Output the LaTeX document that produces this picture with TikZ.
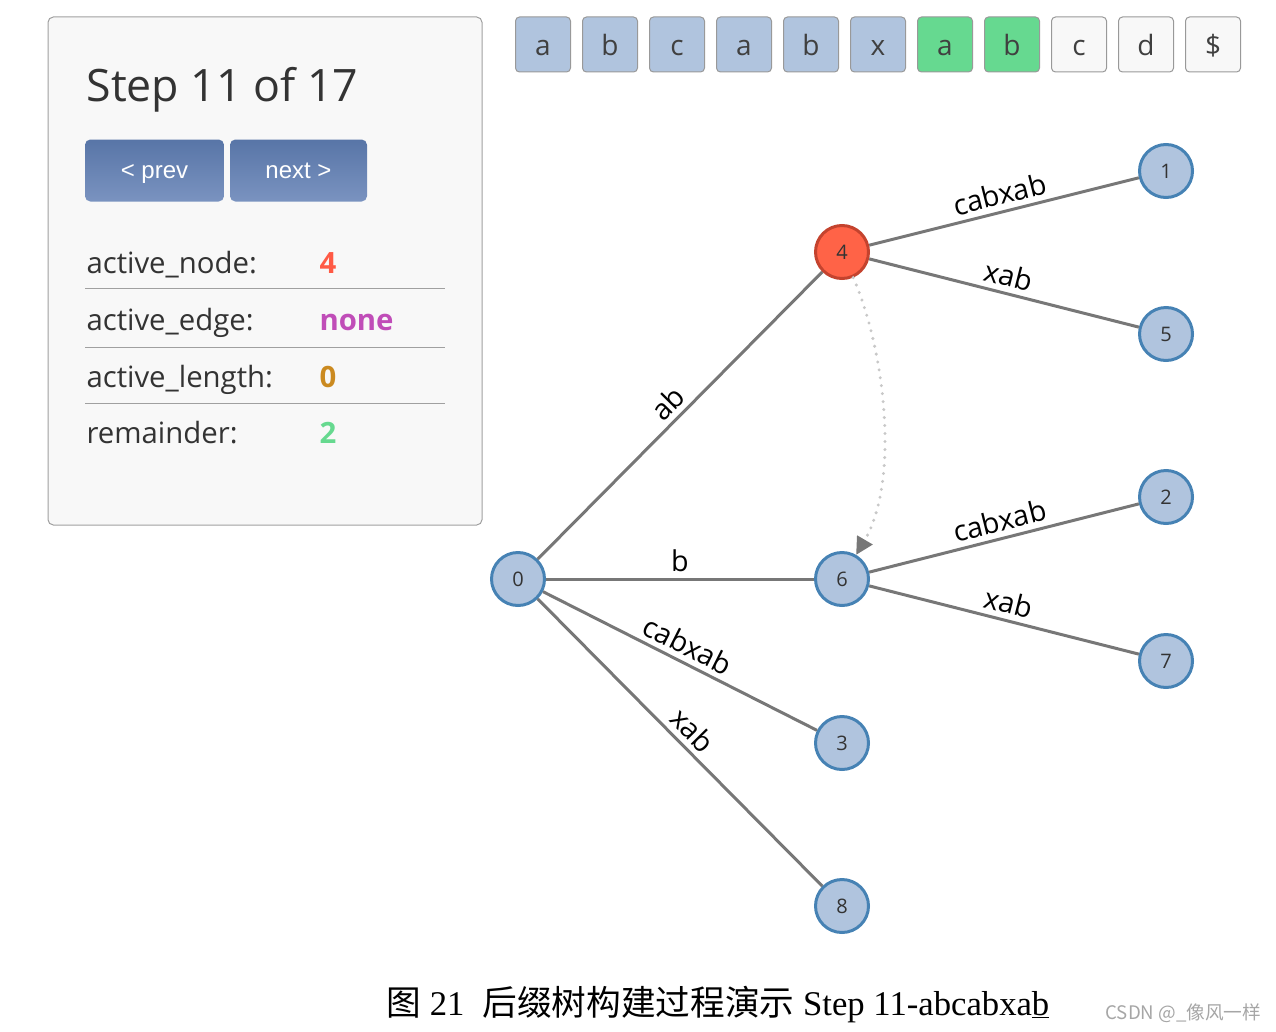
\documentclass[tikz,border=0pt]{standalone}
\usepackage{fontspec}
\setmainfont{Open Sans}
\newfontfamily\btnfont{Liberation Sans}
\newfontfamily\capfont{Liberation Serif}
\newfontfamily\cjk{Noto Sans CJK SC}
\usepackage{xcolor}
\usetikzlibrary{arrows.meta}
\tikzset{every picture/.style={line width=0.75pt}}

\definecolor{nodefill}{HTML}{B0C4DE}
\definecolor{nodeline}{HTML}{4682B4}
\definecolor{activefill}{HTML}{FF6347}
\definecolor{activeline}{HTML}{C4432E}
\definecolor{edgegray}{HTML}{777777}
\definecolor{linkgray}{HTML}{C8C8C8}
\definecolor{panelbg}{HTML}{F8F8F8}
\definecolor{panelline}{HTML}{A0A0A0}
\definecolor{btntop}{HTML}{5875A7}
\definecolor{btnbottom}{HTML}{7A93C0}
\definecolor{textgray}{HTML}{333333}
\definecolor{donefill}{HTML}{B0C4DE}
\definecolor{sufffill}{HTML}{66D990}
\definecolor{restfill}{HTML}{F8F8F8}
\definecolor{valred}{HTML}{FF5A45}
\definecolor{valpurple}{HTML}{C04DB8}
\definecolor{valgold}{HTML}{CB8A20}
\definecolor{valgreen}{HTML}{66D98F}

\begin{document}
\begin{tikzpicture}[x=0.75pt,y=0.75pt,yscale=-1,xscale=1,
  tnode/.style={circle, draw=nodeline, fill=nodefill, line width=2.25pt, minimum size=39.75pt, inner sep=0pt, text=textgray, font=\fontsize{15}{15}\selectfont},
  anode/.style={tnode, draw=activeline, fill=activefill},
  treeedge/.style={draw=edgegray, line width=2.25pt},
  elabel/.style={midway, above, rotate=#1, inner sep=4pt, font=\fontsize{21.5}{21.5}\selectfont},
  charbox/.style={draw=black!40, fill=#1, rounded corners=3pt, minimum width=41.25pt, minimum height=41.25pt, inner sep=0pt, text height=20pt, text depth=2.8pt, text=black!75, font=\fontsize{21}{21}\selectfont},
  btn/.style={rounded corners=4pt, top color=btntop, bottom color=btnbottom, minimum width=104.25pt, minimum height=46.5pt, inner sep=0pt, text height=12pt, text depth=0pt, text=white, font=\btnfont\fontsize{18}{18}\selectfont},
  rowlabel/.style={anchor=base west, inner sep=0pt, text=textgray, font=\fontsize{22}{22}\selectfont},
  rowvalue/.style={anchor=base west, inner sep=0pt, font=\bfseries\fontsize{22}{22}\selectfont},
]
\useasboundingbox (0,0) rectangle (1276,1031);

%Shape: Rectangle (panel)
\draw [draw=panelline, fill=panelbg, rounded corners=4pt] (48,17) rectangle (482,525);

% Text Node
\node [anchor=base west, inner sep=0pt, text=textgray, font=\fontsize{33.5}{33.5}\selectfont] (title) at (86,101) {Step 11 of 17};
% Buttons
\node [btn] (prev) at (154.5,170.5) {< prev};
\node [btn, minimum width=102.75pt] (next) at (298.5,170.5) {next >};

% Rows
\foreach \lab/\val/\col/\y [count=\i] in {active\_node:/4/valred/273, active\_edge:/none/valpurple/330, active\_length:/0/valgold/387, remainder:/2/valgreen/443}
{
  \node [rowlabel] (lab\i) at (86,\y) {\lab};
  \node [rowvalue, text=\col] (val\i) at (319,\y) {\val};
}
%Straight Lines
\foreach \y in {288,347,403}
  \draw [draw=panelline] (85,\y) -- (445,\y);

% Character boxes
\foreach \ch/\col [count=\i from 0] in {a/donefill, b/donefill, c/donefill, a/donefill, b/donefill, x/donefill, a/sufffill, b/sufffill, c/restfill, d/restfill, \$/restfill}
  \node [charbox=\col] (c\i) at ({543+67*\i},44.5) {\ch};

%Shape: Circle
\node [tnode] (n0) at (518,579) {0};
\node [anode] (n4) at (842,252) {4};
\node [tnode] (n6) at (842,579) {6};
\node [tnode] (n3) at (842,743) {3};
\node [tnode] (n8) at (842,906) {8};
\node [tnode] (n1) at (1166,171) {1};
\node [tnode] (n5) at (1166,334) {5};
\node [tnode] (n2) at (1166,497) {2};
\node [tnode] (n7) at (1166,661) {7};

%Straight Lines
\draw [treeedge] (n0) -- (n4) node [elabel=45.3] {ab};
\draw [treeedge] (n0) -- (n6) node [elabel=0] {b};
\draw [treeedge] (n0) -- (n3) node [elabel=-26.8] {cabxab};
\draw [treeedge] (n0) -- (n8) node [elabel=-45.3] {xab};
\draw [treeedge] (n4) -- (n1) node [elabel=14] {cabxab};
\draw [treeedge] (n4) -- (n5) node [elabel=-14.2] {xab};
\draw [treeedge] (n6) -- (n2) node [elabel=14] {cabxab};
\draw [treeedge] (n6) -- (n7) node [elabel=-14.2] {xab};

%Curve Lines (suffix link)
\draw [draw=linkgray, line width=2.5pt, line cap=round, dash pattern=on 0pt off 6pt, -{Triangle[length=13pt,width=13pt,color=edgegray]}] (n4) .. controls (885,350) and (900,480) .. (n6);

% Text Node
\node [anchor=base west, inner sep=0pt, font=\capfont\fontsize{26}{26}\selectfont] (caption) at (386,1015) {{\cjk 图} 21\hspace{13.5pt}{\cjk 后缀树构建过程演示} Step 11-abcabxa\underline{b}};
% Text Node
\node [anchor=base west, inner sep=0pt, text=black!35, font=\cjk\fontsize{14}{14}\selectfont] (mark) at (1105,1019) {CSDN @\_像风一样};

\end{tikzpicture}
\end{document}
